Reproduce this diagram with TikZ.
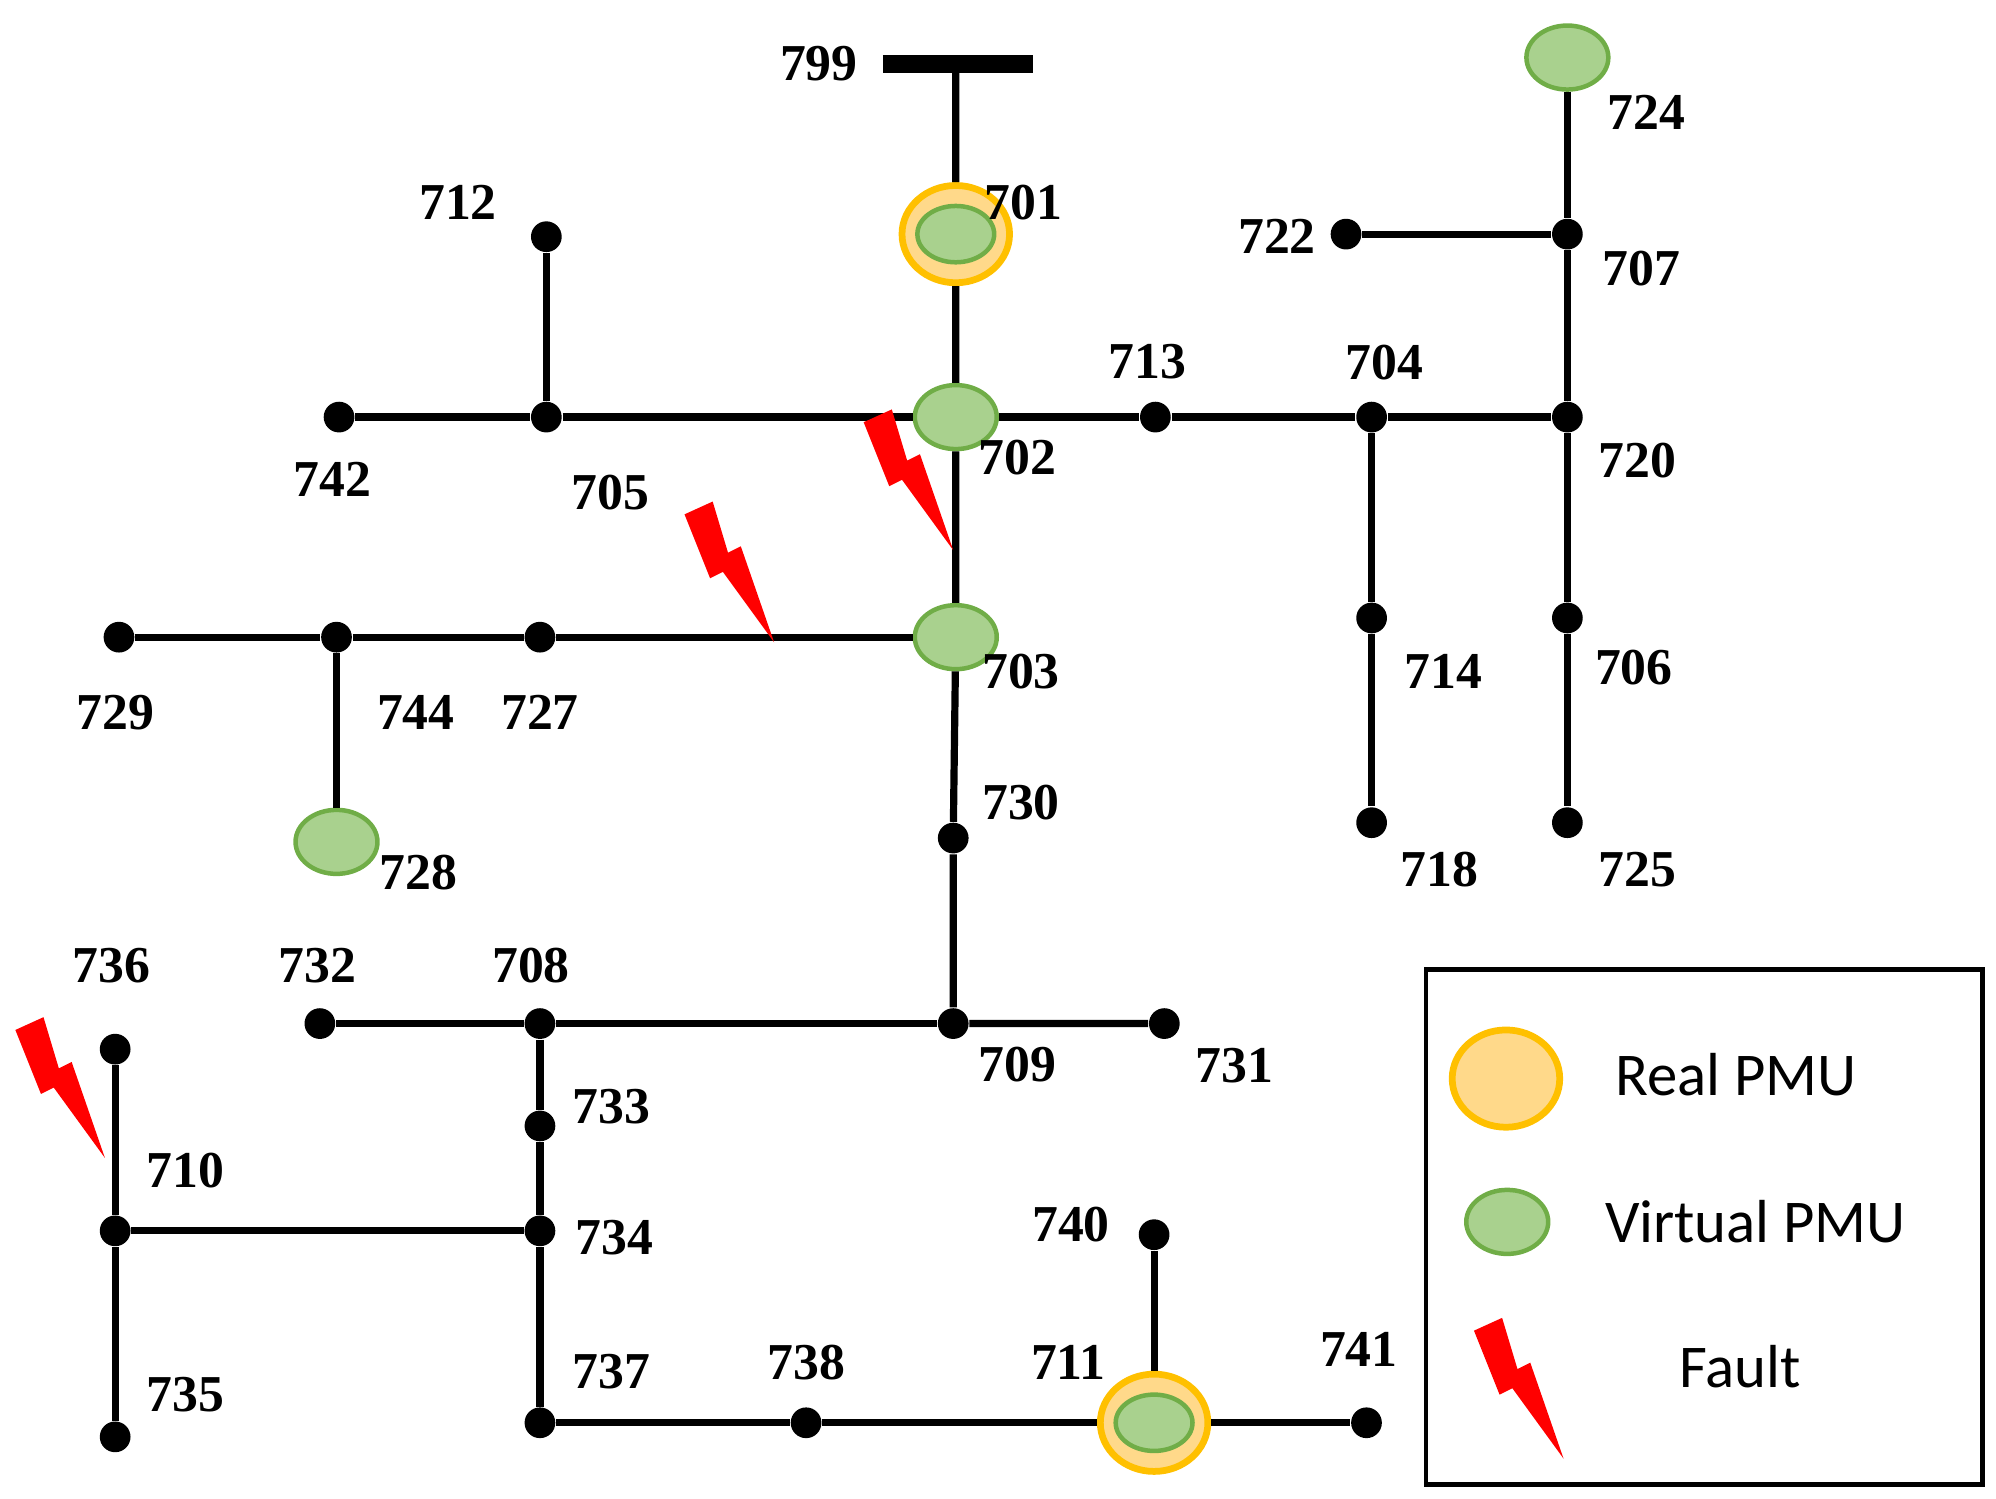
\documentclass[tikz,border=0pt]{standalone}
\usetikzlibrary{shapes.geometric}
\usepackage{fontspec}
\setmainfont{Liberation Serif}
\newfontfamily\legfont{Carlito}
\definecolor{pmug}{HTML}{A9D18E}
\definecolor{pmugd}{HTML}{70AD47}
\definecolor{pmuo}{HTML}{FFD98A}
\definecolor{pmuod}{HTML}{FFC000}
\begin{document}
\begin{tikzpicture}[x=0.01cm,y=-0.01cm,
  dot/.style={circle,fill=black,inner sep=0pt,minimum size=0.24cm},
  vpmu/.style={ellipse,draw=pmugd,fill=pmug,line width=1pt,minimum width=0.64cm,minimum height=0.5cm,inner sep=0pt},
  rpmu/.style={ellipse,draw=pmuod,fill=pmuo,line width=1.5pt,minimum width=0.84cm,minimum height=0.76cm,inner sep=0pt},
  lbl/.style={font=\fontsize{11.5pt}{12pt}\selectfont\bfseries},
  line/.style={line width=1.6pt},
  bolt/.pic={\fill[red] (-8,0)--(14,-10)--(26,30)--(36,25)--(62,100)--(22,45)--(12,50)--cycle;}
]
\useasboundingbox (0,0) rectangle (1560,1171);
\newcommand{\realpmu}[2]{\node[rpmu] (#1) at #2 {}; \node[vpmu,minimum width=0.6cm,minimum height=0.44cm] at #2 {};}
% nodes
\coordinate (b1) at (690,50); \coordinate (b2) at (807,50); \coordinate (b799) at (747,50);
\realpmu{n701}{(747,183)}
\node[vpmu] (n702) at (747,326) {};
\node[vpmu] (n703) at (747,498) {};
\node[vpmu] (n724) at (1225,45) {};
\node[vpmu] (n728) at (263,658) {};
\foreach \n/\x/\y in {712/427/185,705/427/326,742/265/326,713/903/326,704/1072/326,720/1225/326,707/1225/183,722/1052/183,714/1072/483,718/1072/643,706/1225/483,725/1225/643,729/93/498,744/263/498,727/422/498,730/745/655,709/745/800,731/910/800,708/422/800,732/250/800,733/422/880,734/422/962,710/90/962,736/90/820,735/90/1123,737/422/1112,738/630/1112,740/902/965,741/1068/1112}
  \node[dot] (n\n) at (\x,\y) {};
\realpmu{n711}{(902,1112)}
% lines
\draw[line width=4pt] (b1)--(b2);
\draw[line] (b799)--(n701) (n701)--(n702) (n702)--(n703) (n703)--(n730) (n730)--(n709) (n709)--(n731);
\draw[line] (n742)--(n705) (n705)--(n702) (n705)--(n712) (n702)--(n713) (n713)--(n704) (n704)--(n720);
\draw[line] (n724)--(n707) (n707)--(n720) (n722)--(n707) (n720)--(n706) (n706)--(n725) (n704)--(n714) (n714)--(n718);
\draw[line] (n729)--(n744) (n744)--(n727) (n727)--(n703) (n744)--(n728);
\draw[line] (n732)--(n708) (n708)--(n709) (n708)--(n733) (n733)--(n734) (n734)--(n737) (n734)--(n710) (n736)--(n710) (n710)--(n735);
\draw[line] (n737)--(n738) (n738)--(n711) (n711)--(n741) (n740)--(n711);
% labels
\foreach \t/\x/\y in {799/640/50,701/800/158,702/795/358,703/798/525,712/358/158,705/477/385,742/260/375,713/897/283,704/1082/283,720/1280/360,707/1283/210,722/998/185,724/1287/88,714/1128/525,718/1125/680,706/1277/522,725/1280/680,729/90/557,744/325/557,727/422/557,728/327/682,730/798/627,709/795/832,731/965/833,708/415/755,732/248/755,733/478/865,734/480/967,710/145/915,736/87/755,735/145/1090,737/478/1072,738/630/1065,711/835/1065,740/837/957,741/1062/1055}
  \node[lbl] at (\x,\y) {\t};
% faults
\pic at (683,330) {bolt};
\pic at (543,402) {bolt};
\pic at (20,805) {bolt};
% legend
\node[draw,line width=1pt,minimum width=4.35cm,minimum height=4.02cm,inner sep=0pt] (leg) at (1332,959) {};
\node[rpmu] (lr) at (1177,843) {};
\node[vpmu] (lv) at (1178,955) {};
\pic at (1160,1040) {bolt};
\node[font=\legfont\fontsize{13.5pt}{14pt}\selectfont] at (1357,840) {Real PMU};
\node[font=\legfont\fontsize{13.5pt}{14pt}\selectfont] at (1372,955) {Virtual PMU};
\node[font=\legfont\fontsize{13.5pt}{14pt}\selectfont] at (1360,1068) {Fault};
\end{tikzpicture}
\end{document}
